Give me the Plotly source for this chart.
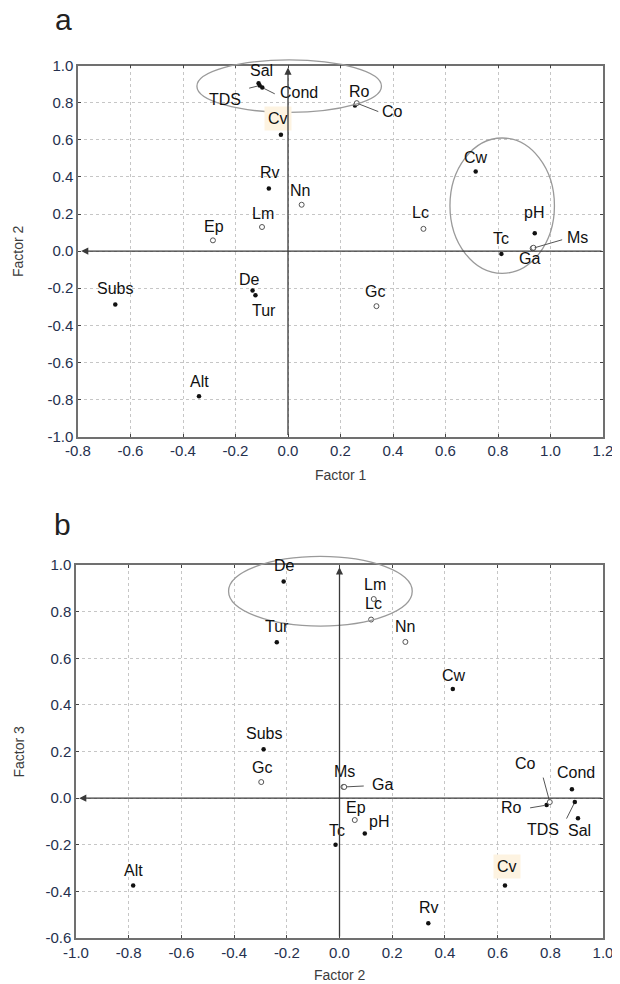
import plotly.graph_objects as go

# ---------------- data ----------------
names = ["Sal", "TDS", "Cond", "Ro", "Co", "Cv", "Rv", "Nn", "Lm", "Ep", "De",
         "Tur", "Subs", "Gc", "Alt", "Lc", "Cw", "pH", "Tc", "Ms", "Ga"]
factor1 = [-0.112, -0.108, -0.098, 0.255, 0.262, -0.027, -0.073, 0.052, -0.099, -0.286, -0.135,
           -0.124, -0.658, 0.337, -0.339, 0.516, 0.715, 0.940, 0.813, 0.932, 0.935]
factor2 = [0.905, 0.893, 0.882, 0.786, 0.798, 0.628, 0.337, 0.250, 0.130, 0.058, -0.212,
           -0.238, -0.288, -0.297, -0.783, 0.120, 0.430, 0.096, -0.015, 0.015, 0.018]
factor3 = [-0.086, -0.017, 0.038, -0.030, -0.017, -0.375, -0.537, 0.670, 0.854, -0.094, 0.929,
           0.669, 0.210, 0.069, -0.375, 0.766, 0.468, -0.152, -0.200, 0.048, 0.048]
open_vars = ["Co", "Nn", "Lm", "Ep", "Gc", "Lc", "Ms", "Ga"]

xticks_a = [-0.8, -0.6, -0.4, -0.2, 0.0, 0.2, 0.4, 0.6, 0.8, 1.0, 1.2]
yticks_a = [-1.0, -0.8, -0.6, -0.4, -0.2, 0.0, 0.2, 0.4, 0.6, 0.8, 1.0]
xticks_b = [-1.0, -0.8, -0.6, -0.4, -0.2, 0.0, 0.2, 0.4, 0.6, 0.8, 1.0]
yticks_b = [-0.6, -0.4, -0.2, 0.0, 0.2, 0.4, 0.6, 0.8, 1.0]

# ellipses (data units): x0, x1, y0, y1
ellipses_a = [(-0.347, 0.356, 0.748, 1.031), (0.617, 1.015, -0.120, 0.610)]
ellipses_b = [(-0.421, 0.276, 0.738, 1.037)]

# ---------------- label layout (screen px offsets: dx right, dy down) ----------------
off_a = {"Sal": (3, -13), "TDS": (-35, 14), "Cond": (37, 5), "Ro": (5, -14), "Co": (36, 8),
         "Cv": (-3, -16), "Rv": (1, -16), "Nn": (-2, -14), "Lm": (1, -14), "Ep": (1, -14),
         "De": (-3, -11), "Tur": (9, 15), "Subs": (0, -16), "Gc": (-1, -15), "Alt": (0, -15),
         "Lc": (-3, -16), "Cw": (0, -14), "pH": (-1, -21), "Tc": (0, -15), "Ms": (45, -11),
         "Ga": (-4, 11)}
lead_a = {"TDS": (-12, 3), "Cond": (14, 7), "Co": (23, 9), "Ms": (31, -9)}
off_b = {"Sal": (2, 12), "TDS": (-32, 27), "Cond": (4, -17), "Ro": (-35, 2), "Co": (-24, -39),
         "Cv": (2, -19), "Rv": (1, -16), "Nn": (0, -15), "Lm": (1, -15), "Ep": (1, -13),
         "De": (1, -16), "Tur": (0, -16), "Subs": (0, -16), "Gc": (1, -15), "Alt": (0, -15),
         "Lc": (2, -16), "Cw": (1, -14), "pH": (14, -12), "Tc": (1, -14), "Ms": (1, -15),
         "Ga": (38, -2)}
lead_b = {"Ga": (21, -1), "Co": (-7, -26), "Ro": (-18, 3), "TDS": (-9, 18)}

FONT = "Arial, Liberation Sans, sans-serif"
TICKC = "#25304e"

# the page body has an 8px margin: the figure starts at (8, 8) and reaches the window edges
PAGE_M = 8
FIG_W, FIG_H = 620 - PAGE_M, 984 - PAGE_M


def PX(px):
    return (px - PAGE_M) / FIG_W


def PY(py):
    return 1 - (py - PAGE_M) / FIG_H


fig = go.Figure()


def add_points(xs, ys, xa, ya):
    filled = [i for i, n in enumerate(names) if n not in open_vars]
    opened = [i for i, n in enumerate(names) if n in open_vars]
    fig.add_trace(go.Scatter(
        x=[xs[i] for i in filled], y=[ys[i] for i in filled], mode="markers",
        xaxis=xa, yaxis=ya, cliponaxis=False, hoverinfo="skip",
        marker=dict(size=4.5, color="#111111", line=dict(width=0))))
    fig.add_trace(go.Scatter(
        x=[xs[i] for i in opened], y=[ys[i] for i in opened], mode="markers",
        xaxis=xa, yaxis=ya, cliponaxis=False, hoverinfo="skip",
        marker=dict(size=5, color="white", line=dict(width=1, color="#555555"))))


add_points(factor1, factor2, "x", "y")
add_points(factor2, factor3, "x2", "y2")

annotations = []


def add_labels(xs, ys, xr, yr, offs, leads):
    for i, n in enumerate(names):
        if n in leads:
            tx, ty = leads[n]
            annotations.append(dict(x=xs[i], y=ys[i], xref=xr, yref=yr, text="",
                                    showarrow=True, arrowhead=0, arrowwidth=1,
                                    arrowcolor="#555555", ax=tx, ay=ty, standoff=2))
        dx, dy = offs[n]
        a = dict(x=xs[i], y=ys[i], xref=xr, yref=yr, text=n, showarrow=False,
                 xanchor="center", yanchor="middle",
                 xshift=dx, yshift=-dy, font=dict(family=FONT, size=16, color="#111111"))
        if n == "Cv":
            a.update(bgcolor="#fdf3e1", borderpad=3)
        annotations.append(a)


add_labels(factor1, factor2, "x", "y", off_a, lead_a)
add_labels(factor2, factor3, "x2", "y2", off_b, lead_b)

# axis arrows
for xr, yr, xmin, xmax, ytop, ymin in [("x", "y", -0.8, 1.2, 0.99, -1.0),
                                       ("x2", "y2", -1.0, 1.0, 0.99, -0.6)]:
    annotations.append(dict(x=xmin + 0.012, y=0, ax=xmax, ay=0, xref=xr, yref=yr,
                            axref=xr, ayref=yr, text="", showarrow=True, arrowhead=2,
                            arrowsize=1.1, arrowwidth=1.3, arrowcolor="#3a3a3a"))
    annotations.append(dict(x=0, y=ytop, ax=0, ay=ymin, xref=xr, yref=yr,
                            axref=xr, ayref=yr, text="", showarrow=True, arrowhead=2,
                            arrowsize=1.1, arrowwidth=1.3, arrowcolor="#3a3a3a"))

# ellipses in domain coordinates (not clipped)
shapes = []


def add_ellipses(ells, xrange_, yrange_, xa, ya):
    for (x0, x1, y0, y1) in ells:
        fx = lambda v: (v - xrange_[0]) / (xrange_[1] - xrange_[0])
        fy = lambda v: (v - yrange_[0]) / (yrange_[1] - yrange_[0])
        shapes.append(dict(type="circle", xref=xa + " domain", yref=ya + " domain",
                           x0=fx(x0), x1=fx(x1), y0=fy(y0), y1=fy(y1),
                           line=dict(color="#9a9a9a", width=1.3), layer="above"))


add_ellipses(ellipses_a, (-0.8, 1.2), (-1.0, 1.0), "x", "y")
add_ellipses(ellipses_b, (-1.0, 1.0), (-0.6, 1.0), "x2", "y2")

# plot areas (page pixels of the reference)
da_x = (PX(78), PX(603))
da_y = (PY(436.5), PY(65.7))
db_x = (PX(76), PX(603))
db_y = (PY(938), PY(565))

tfont = dict(family=FONT, size=14, color="#3c3c3c")
common = dict(xref="paper", yref="paper", showarrow=False, xanchor="center", yanchor="middle")
annotations += [
    dict(x=sum(da_x) / 2, y=PY(475), text="Factor 1", font=tfont, **common),
    dict(x=PX(18), y=sum(da_y) / 2, text="Factor 2", textangle=-90, font=tfont, **common),
    dict(x=sum(db_x) / 2, y=PY(975), text="Factor 2", font=tfont, **common),
    dict(x=PX(18), y=sum(db_y) / 2, text="Factor 3", textangle=-90, font=tfont, **common),
    dict(x=PX(64), y=PY(20), text="a", font=dict(family=FONT, size=30, color="#222222"), **common),
    dict(x=PX(62), y=PY(524), text="b", font=dict(family=FONT, size=30, color="#222222"), **common),
]


def axis_style(domain, rng, ticks, anchor):
    return dict(domain=list(domain), range=list(rng), tickvals=ticks,
                ticktext=["%.1f" % t for t in ticks], showgrid=True,
                gridcolor="#c6c6c6", griddash="dot", gridwidth=1, zeroline=False,
                showline=True, linecolor="#707070", linewidth=1.5, mirror="ticks",
                ticks="inside", ticklen=3, tickcolor="#444444", tickwidth=1,
                tickfont=dict(family=FONT, size=15, color=TICKC), anchor=anchor,
                ticklabeloverflow="allow", automargin=False, fixedrange=True)


fig.update_layout(
    width=FIG_W, height=FIG_H, margin=dict(l=0, r=0, t=0, b=0),
    paper_bgcolor="white", plot_bgcolor="white", showlegend=False,
    xaxis=axis_style(da_x, (-0.8, 1.2), xticks_a, "y"),
    yaxis=axis_style(da_y, (-1.0, 1.0), yticks_a, "x"),
    xaxis2=axis_style(db_x, (-1.0, 1.0), xticks_b, "y2"),
    yaxis2=axis_style(db_y, (-0.6, 1.0), yticks_b, "x2"),
    annotations=annotations, shapes=shapes,
)

fig.write_html("out.html")
